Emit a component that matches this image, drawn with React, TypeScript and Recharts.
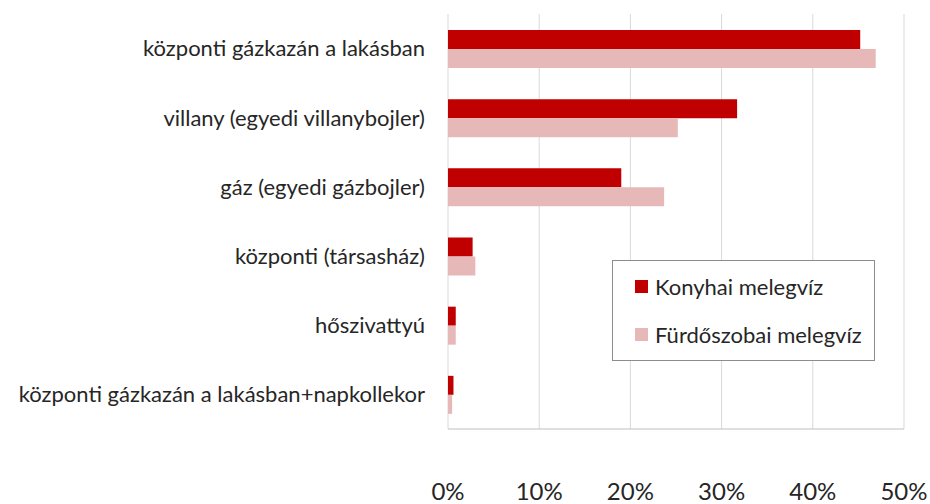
import { BarChart, Bar, XAxis, YAxis, CartesianGrid } from "recharts";

const categories = [
  "központi gázkazán a lakásban",
  "villany (egyedi villanybojler)",
  "gáz (egyedi gázbojler)",
  "központi (társasház)",
  "hőszivattyú",
  "központi gázkazán a lakásban+napkollekor",
];

const konyhai = [45.2, 31.7, 19.0, 2.7, 0.85, 0.6];
const furdo = [46.9, 25.2, 23.7, 3.0, 0.85, 0.45];

const xTicks = [0, 10, 20, 30, 40, 50];

const series = [
  { key: "konyhai", name: "Konyhai melegvíz", color: "#C00000" },
  { key: "furdo", name: "Fürdőszobai melegvíz", color: "#E6B9B8" },
];

const data = categories.map((name, i) => ({
  name,
  konyhai: konyhai[i],
  furdo: furdo[i],
}));

const font = "Lato, 'Open Sans', sans-serif";

function LegendBox() {
  return (
    <div
      style={{
        position: "absolute",
        left: 612,
        top: 260,
        width: 261,
        height: 99,
        border: "1px solid #8c8c8c",
        background: "#fff",
        fontFamily: font,
        fontSize: 22,
        color: "#262626",
      }}
    >
      {series.map((s, i) => (
        <div
          key={s.key}
          style={{
            position: "absolute",
            left: 22,
            top: i === 0 ? 10 : 58,
            height: 30,
            display: "flex",
            alignItems: "center",
            whiteSpace: "nowrap",
          }}
        >
          <span
            style={{
              display: "inline-block",
              width: 13,
              height: 13,
              background: s.color,
              marginRight: 7,
            }}
          />
          {s.name}
        </div>
      ))}
    </div>
  );
}

export default function App() {
  return (
    <div style={{ position: "absolute", left: 0, top: 0, width: 930, height: 504, background: "#fff", overflow: "hidden" }}>
      <BarChart
        width={930}
        height={504}
        data={data}
        layout="vertical"
        margin={{ top: 14, right: 26, bottom: 45, left: 0 }}
        barGap={0}
        barSize={19}
      >
        <CartesianGrid horizontal={false} stroke="#d9d9d9" />
        <XAxis
          type="number"
          domain={[0, 50]}
          ticks={xTicks}
          tickFormatter={(v) => `${v}%`}
          axisLine={{ stroke: "#bfbfbf" }}
          tickLine={false}
          tickSize={0}
          tickMargin={54}
          interval={0}
          tick={{ fill: "#262626", fontSize: 24, fontFamily: font }}
        />
        <YAxis
          type="category"
          dataKey="name"
          width={448}
          axisLine={false}
          tickLine={false}
          tickSize={0}
          tickMargin={23}
          interval={0}
          tick={{ fill: "#262626", fontSize: 22, fontFamily: font }}
        />
        {series.map((s) => (
          <Bar key={s.key} dataKey={s.key} name={s.name} fill={s.color} isAnimationActive={false} />
        ))}
      </BarChart>
      <LegendBox />
    </div>
  );
}
